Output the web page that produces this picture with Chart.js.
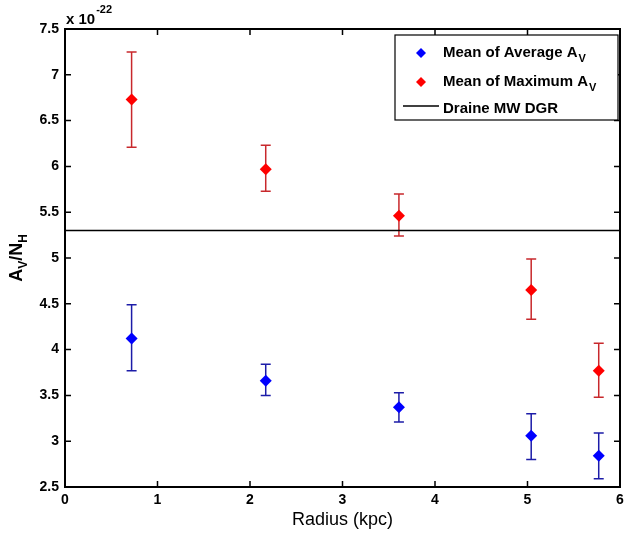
<!DOCTYPE html>
<html>
<head>
<meta charset="utf-8">
<script src="https://cdn.jsdelivr.net/npm/chart.js@4/dist/chart.umd.min.js"></script>
<style>
html, body { margin: 0; padding: 0; background: #fff; }
</style>
</head>
<body>
<canvas id="myChart" width="626" height="534"></canvas>
<script>
// radius in kpc, values in units of 1e-22
var radius = [0.72, 2.17, 3.61, 5.04, 5.77];
var avgMean = [4.12, 3.66, 3.37, 3.06, 2.84];
var avgLow = [3.77, 3.50, 3.21, 2.80, 2.59];
var avgHigh = [4.49, 3.84, 3.53, 3.30, 3.09];
var maxMean = [6.73, 5.97, 5.46, 4.65, 3.77];
var maxLow = [6.21, 5.73, 5.24, 4.33, 3.48];
var maxHigh = [7.25, 6.23, 5.70, 4.99, 4.07];
var dgrRange = [0, 6];
var dgrValue = 5.3;
var xTicks = [0, 1, 2, 3, 4, 5, 6];
var yTicks = [2.5, 3, 3.5, 4, 4.5, 5, 5.5, 6, 6.5, 7, 7.5];

var FONT = 'Arial, "Liberation Sans", sans-serif';

function toPoints(xs, ys) {
    return xs.map(function (x, i) { return { x: x, y: ys[i] }; });
}

var errorBars = {
    id: 'errorBars',
    beforeDatasetsDraw: function (chart) {
        var ctx = chart.ctx;
        var xs = chart.scales.x, ys = chart.scales.y;
        var sets = [
            { lo: avgLow, hi: avgHigh, color: '#1c1ca8' },
            { lo: maxLow, hi: maxHigh, color: '#c8282c' }
        ];
        ctx.save();
        ctx.lineWidth = 1.5;
        sets.forEach(function (s) {
            ctx.strokeStyle = s.color;
            radius.forEach(function (r, i) {
                var px = xs.getPixelForValue(r);
                var y1 = ys.getPixelForValue(s.lo[i]);
                var y2 = ys.getPixelForValue(s.hi[i]);
                ctx.beginPath();
                ctx.moveTo(px, y1); ctx.lineTo(px, y2);
                ctx.moveTo(px - 5, y1); ctx.lineTo(px + 5, y1);
                ctx.moveTo(px - 5, y2); ctx.lineTo(px + 5, y2);
                ctx.stroke();
            });
        });
        ctx.restore();
    }
};

var frameAndText = {
    id: 'frameAndText',
    afterDraw: function (chart) {
        var ctx = chart.ctx;
        var a = chart.chartArea;
        var xs = chart.scales.x, ys = chart.scales.y;
        ctx.save();
        // box
        ctx.strokeStyle = '#000';
        ctx.lineWidth = 2;
        ctx.strokeRect(a.left, a.top, a.right - a.left, a.bottom - a.top);
        // inward ticks on all sides
        ctx.lineWidth = 1.5;
        ctx.beginPath();
        xTicks.forEach(function (t) {
            var px = xs.getPixelForValue(t);
            ctx.moveTo(px, a.bottom); ctx.lineTo(px, a.bottom - 6);
            ctx.moveTo(px, a.top); ctx.lineTo(px, a.top + 6);
        });
        yTicks.forEach(function (t) {
            var py = ys.getPixelForValue(t);
            ctx.moveTo(a.left, py); ctx.lineTo(a.left + 6, py);
            ctx.moveTo(a.right, py); ctx.lineTo(a.right - 6, py);
        });
        ctx.stroke();

        ctx.fillStyle = '#000';
        // exponent label
        ctx.textBaseline = 'alphabetic';
        ctx.textAlign = 'left';
        ctx.font = 'bold 15px ' + FONT;
        ctx.fillText('x 10', a.left + 1, 24);
        var w = ctx.measureText('x 10').width;
        ctx.font = 'bold 11px ' + FONT;
        ctx.fillText('-22', a.left + 2 + w, 13);

        // y axis title A_V/N_H
        ctx.save();
        ctx.translate(22, (a.top + a.bottom) / 2);
        ctx.rotate(-Math.PI / 2);
        var parts = [['A', 18, 0], ['V', 12, 5], ['/N', 18, 0], ['H', 12, 5]];
        var total = 0;
        parts.forEach(function (p) {
            ctx.font = 'bold ' + p[1] + 'px ' + FONT;
            total += ctx.measureText(p[0]).width;
        });
        var cx = -total / 2;
        parts.forEach(function (p) {
            ctx.font = 'bold ' + p[1] + 'px ' + FONT;
            ctx.fillText(p[0], cx, p[2]);
            cx += ctx.measureText(p[0]).width;
        });
        ctx.restore();

        // legend
        var lx = 395, ly = 35, lw = 223, lh = 85;
        ctx.fillStyle = '#fff';
        ctx.fillRect(lx, ly, lw, lh);
        ctx.strokeStyle = '#000';
        ctx.lineWidth = 1.2;
        ctx.strokeRect(lx, ly, lw, lh);
        var entries = [
            { label: 'Mean of Average A', sub: 'V', color: '#0000ff', y: 53 },
            { label: 'Mean of Maximum A', sub: 'V', color: '#ff0000', y: 82 },
            { label: 'Draine MW DGR', sub: '', color: null, y: 109 }
        ];
        entries.forEach(function (e) {
            if (e.color) {
                ctx.fillStyle = e.color;
                ctx.beginPath();
                ctx.moveTo(421, e.y - 5); ctx.lineTo(426, e.y);
                ctx.lineTo(421, e.y + 5); ctx.lineTo(416, e.y);
                ctx.closePath();
                ctx.fill();
            } else {
                ctx.strokeStyle = '#000';
                ctx.lineWidth = 1.5;
                ctx.beginPath();
                ctx.moveTo(403, e.y - 3); ctx.lineTo(439, e.y - 3);
                ctx.stroke();
            }
            ctx.fillStyle = '#000';
            ctx.font = 'bold 15px ' + FONT;
            ctx.fillText(e.label, 443, e.y + 4);
            if (e.sub) {
                var tw = ctx.measureText(e.label).width;
                ctx.font = 'bold 11px ' + FONT;
                ctx.fillText(e.sub, 443 + tw + 1, e.y + 9);
            }
        });
        ctx.restore();
    }
};

var ctx = document.getElementById('myChart').getContext('2d');

var myChart = new Chart(ctx, {
    type: 'scatter',
    data: {
        datasets: [{
            label: 'Mean of Average AV',
            data: toPoints(radius, avgMean),
            backgroundColor: '#0000ff',
            borderWidth: 0,
            pointStyle: 'rectRot',
            pointRadius: 6
        }, {
            label: 'Mean of Maximum AV',
            data: toPoints(radius, maxMean),
            backgroundColor: '#ff0000',
            borderWidth: 0,
            pointStyle: 'rectRot',
            pointRadius: 6
        }, {
            type: 'line',
            label: 'Draine MW DGR',
            data: toPoints(dgrRange, [dgrValue, dgrValue]),
            borderColor: '#000',
            borderWidth: 1.5,
            pointRadius: 0,
            fill: false
        }]
    },
    options: {
        responsive: false,
        animation: false,
        layout: { padding: { top: 29, right: 2, left: 0, bottom: 0 } },
        plugins: {
            legend: { display: false },
            tooltip: { enabled: false }
        },
        scales: {
            x: {
                type: 'linear',
                min: 0,
                max: 6,
                afterFit: function (s) { s.height = 47; s.paddingRight = 0; s.paddingLeft = 0; },
                afterBuildTicks: function (s) { s.ticks = xTicks.map(function (v) { return { value: v }; }); },
                grid: { display: false, drawTicks: false },
                border: { display: false },
                ticks: { color: '#000', padding: 5, font: { family: FONT, size: 14, weight: 'bold' } },
                title: {
                    display: true,
                    text: 'Radius (kpc)',
                    color: '#000',
                    font: { family: FONT, size: 18 },
                    padding: { top: 0, bottom: 3 }
                }
            },
            y: {
                type: 'linear',
                min: 2.5,
                max: 7.5,
                afterFit: function (s) { s.width = 65; s.paddingTop = 0; s.paddingBottom = 0; },
                afterBuildTicks: function (s) { s.ticks = yTicks.map(function (v) { return { value: v }; }); },
                grid: { display: false, drawTicks: false },
                border: { display: false },
                ticks: {
                    color: '#000',
                    padding: 6,
                    font: { family: FONT, size: 14, weight: 'bold' },
                    callback: function (v) { return String(v); }
                }
            }
        }
    },
    plugins: [errorBars, frameAndText]
});
</script>
</body>
</html>
